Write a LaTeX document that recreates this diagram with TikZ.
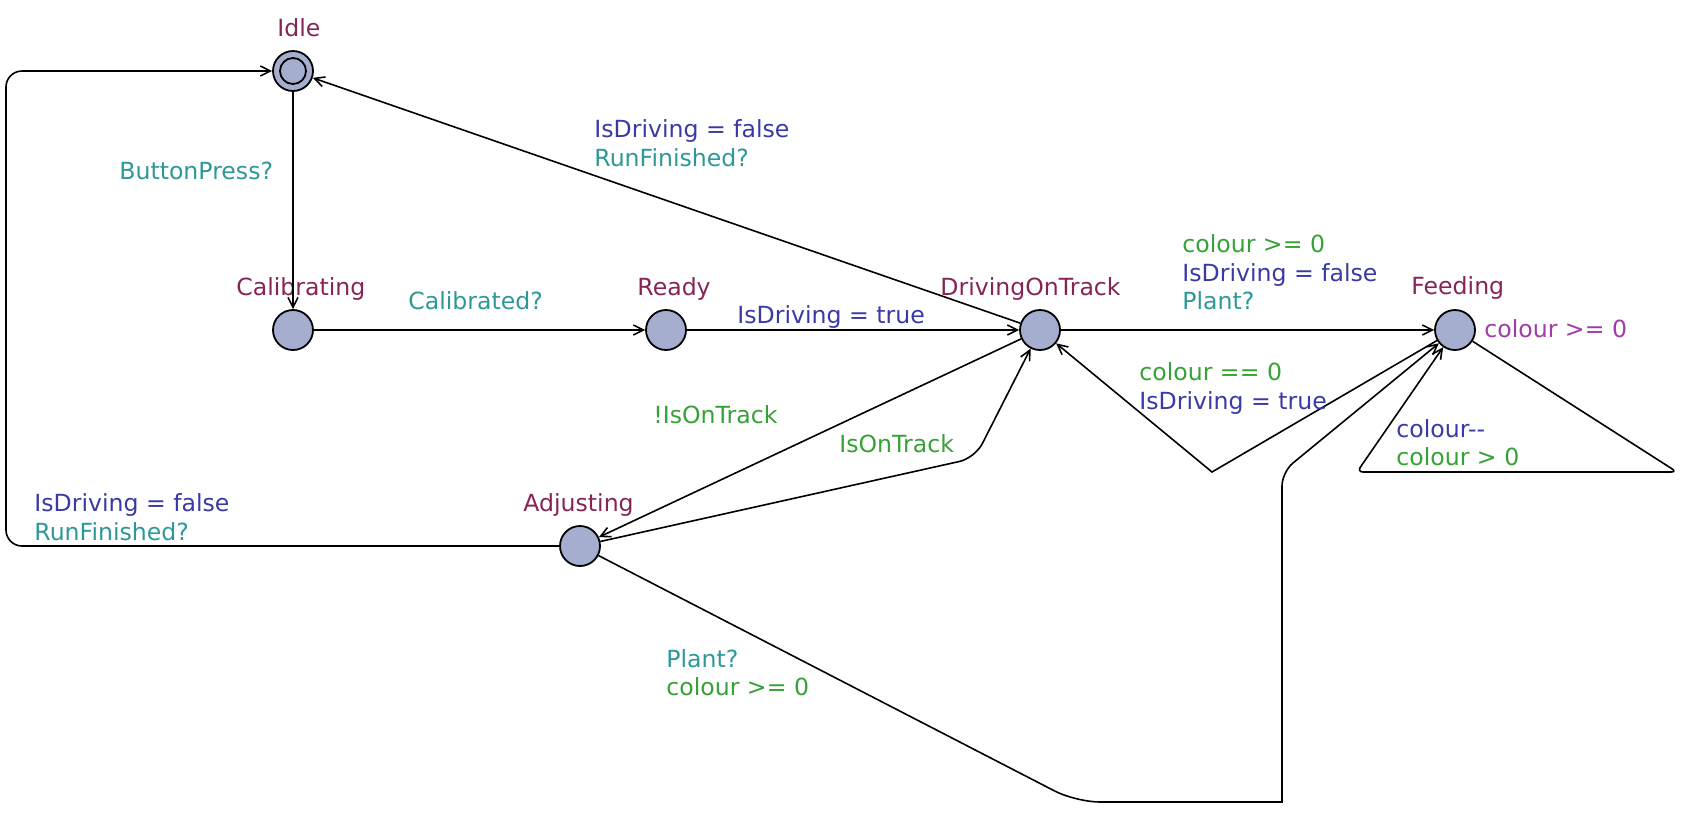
\documentclass[tikz,border=0pt]{standalone}
\usepackage{fontspec}
\setmainfont{DejaVu Sans}
\usetikzlibrary{arrows.meta}

\definecolor{locfill}{RGB}{166,174,207}
\definecolor{namecol}{RGB}{134,36,88}
\definecolor{synccol}{RGB}{46,152,152}
\definecolor{guardcol}{RGB}{54,162,54}
\definecolor{updcol}{RGB}{58,58,166}
\definecolor{invcol}{RGB}{160,60,168}

\tikzset{
  loc/.style={circle, draw, fill=locfill, minimum size=20pt, inner sep=0pt, line width=0.9pt},
  lbl/.style={anchor=base west, inner sep=0pt, font=\fontsize{11.8}{14}\selectfont},
  locname/.style={lbl, text=namecol},
  sync/.style={lbl, text=synccol},
  guard/.style={lbl, text=guardcol},
  upd/.style={lbl, text=updcol},
  inv/.style={lbl, text=invcol},
  trans/.style={line width=0.8pt, -{Straight Barb[length=5pt,width=5pt]}}
}

\begin{document}
\begin{tikzpicture}[x=0.5pt, y=-0.5pt]
  \useasboundingbox (0,0) rectangle (1687,826);

  % locations
  \node[loc] (Idle)        at (293,71)   {};
  \node[loc] (Calibrating) at (293,330)  {};
  \node[loc] (Ready)       at (666,330)  {};
  \node[loc] (Driving)     at (1040,330) {};
  \node[loc] (Feeding)     at (1455,330) {};
  \node[loc] (Adjusting)   at (580,546)  {};
  \draw[line width=0.9pt] (Idle) circle (6.5pt);

  \node[locname] (nIdle)  at (277,36)  {Idle};
  \node[locname] (nCal)   at (236,295) {Calibrating};
  \node[locname] (nReady) at (637,295) {Ready};
  \node[locname] (nDrive) at (940,295) {DrivingOnTrack};
  \node[locname] (nFeed)  at (1411,294) {Feeding};
  \node[locname] (nAdj)   at (523,511) {Adjusting};
  \node[inv]  (iFeed)  at (1484,337) {colour >= 0};

  % nails
  \coordinate (c1) at (6,546);
  \coordinate (c2) at (6,71);
  \coordinate (c3) at (975,458);
  \coordinate (c4) at (1212,472);
  \coordinate (c5) at (1076,802);
  \coordinate (c6) at (1282,802);
  \coordinate (c7) at (1282,472);
  \coordinate (c8) at (1677,472);
  \coordinate (c9) at (1357,472);

  % edges
  \draw[trans] (Idle) -- (Calibrating);
  \draw[trans] (Calibrating) -- (Ready);
  \draw[trans] (Ready) -- (Driving);
  \draw[trans] (Driving) -- (Idle);
  \draw[trans] (Driving) -- (Feeding);
  \draw[trans] (Driving) -- (Adjusting);
  \draw[trans, rounded corners=8pt] (Adjusting) -- (c1) -- (c2) -- (Idle);
  \draw[trans, rounded corners=8pt] (Adjusting) -- (c3) -- (Driving);
  \draw[trans] (Feeding) -- (c4) -- (Driving);
  \draw[trans] (Adjusting) [rounded corners=12pt] -- (c5) [sharp corners] -- (c6) [rounded corners=7pt] -- (c7) -- (Feeding);
  \draw[trans, rounded corners=3pt] (Feeding) -- (c8) -- (c9) -- (Feeding);

  % edge labels
  \node[sync]  (sButton) at (119,179) {ButtonPress?};
  \node[sync]  (sCal)    at (408,309) {Calibrated?};
  \node[upd]   (uReady)  at (737,323) {IsDriving = true};
  \node[upd]   (uIdle)   at (594,137) {IsDriving = false};
  \node[sync]  (sIdle)   at (594,166) {RunFinished?};
  \node[guard] (gFeed)   at (1182,252) {colour >= 0};
  \node[upd]   (uFeed)   at (1182,281) {IsDriving = false};
  \node[sync]  (sFeed)   at (1182,309) {Plant?};
  \node[guard] (gBack)   at (1139,380) {colour == 0};
  \node[upd]   (uBack)   at (1139,409) {IsDriving = true};
  \node[guard] (gOff)    at (653,423) {!IsOnTrack};
  \node[guard] (gOn)     at (839,452) {IsOnTrack};
  \node[upd]   (uLoop)   at (1396,437) {colour-{}-};
  \node[guard] (gLoop)   at (1396,465) {colour > 0};
  \node[upd]   (uAdj)    at (34,511) {IsDriving = false};
  \node[sync]  (sAdj)    at (34,540) {RunFinished?};
  \node[sync]  (sPlant)  at (666,667) {Plant?};
  \node[guard] (gPlant)  at (666,695) {colour >= 0};
\end{tikzpicture}
\end{document}
